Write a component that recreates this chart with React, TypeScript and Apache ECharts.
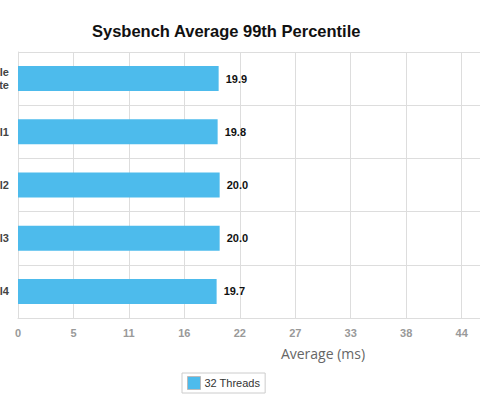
import React, { useEffect, useRef } from "react";
import * as echarts from "echarts";

const categories = ["Single\nSite", "Model1", "Model2", "Model3", "Model4"];
const seriesName = "32 Threads";
const values = [19.9, 19.8, 20.0, 20.0, 19.7];
const axisMin = 0;
const axisMax = 60.5;
const axisInterval = 5.5;
const titleText = "Sysbench Average 99th Percentile";
const axisName = "Average (ms)";

export default function App() {
  const ref = useRef<HTMLDivElement>(null);
  useEffect(() => {
    if (!ref.current) return;
    const chart = echarts.init(ref.current, undefined, { renderer: "svg" });
    chart.setOption({
      animation: false,
      title: {
        text: titleText,
        left: 87,
        top: 17,
        textStyle: { fontFamily: "Liberation Sans", fontSize: 16.5, fontWeight: "bold", color: "#111" },
      },
      legend: {
        data: [seriesName],
        left: 182,
        top: 373,
        itemWidth: 13,
        itemHeight: 13,
        itemGap: 5,
        padding: [3, 5, 3, 5],
        borderColor: "#ccc",
        borderWidth: 1,
        itemStyle: { borderColor: "#bbb", borderWidth: 1 },
        textStyle: { fontFamily: "Liberation Sans", fontSize: 11, color: "#333", padding: [0, 0, 0, -1] },
        icon: "rect",
      },
      grid: { left: 18, right: 72, top: 52, bottom: 81, containLabel: false, outerBoundsMode: "none" },
      xAxis: {
        type: "value",
        min: axisMin,
        max: axisMax,
        interval: axisInterval,
        name: axisName,
        nameLocation: "middle",
        nameGap: 28,
        nameTextStyle: { fontFamily: "Open Sans", fontSize: 14, color: "#666" },
        axisLine: { show: true, lineStyle: { color: "#ddd" } },
        axisTick: { show: false },
        splitLine: { show: true, lineStyle: { color: "#ddd" } },
        axisLabel: {
          margin: 9,
          fontFamily: "Liberation Sans",
          fontSize: 11,
          fontWeight: "bold",
          color: "#999",
          formatter: (v: number) => String(Math.floor(v)),
        },
      },
      yAxis: {
        type: "category",
        data: categories,
        inverse: true,
        axisLine: { show: true, lineStyle: { color: "#ddd" } },
        axisTick: { show: false },
        splitLine: { show: true, lineStyle: { color: "#ddd" } },
        axisLabel: {
          margin: 9,
          fontFamily: "Liberation Sans",
          fontSize: 11,
          fontWeight: "bold",
          color: "#444",
          lineHeight: 13,
        },
      },
      series: [
        {
          name: seriesName,
          type: "bar",
          data: values,
          barWidth: 25,
          itemStyle: { color: "#4dbbec" },
          label: {
            show: true,
            position: "right",
            distance: 7,
            fontFamily: "Liberation Sans",
            fontSize: 11,
            fontWeight: "bold",
            color: "#111",
            formatter: (p: any) => Number(p.value).toFixed(1),
          },
        },
      ],
    });
    return () => chart.dispose();
  }, []);
  return (
    <div style={{ position: "absolute", left: 0, top: 0, width: 480, height: 399, overflow: "hidden" }}>
      <div ref={ref} style={{ width: 700, height: 399 }} />
    </div>
  );
}
